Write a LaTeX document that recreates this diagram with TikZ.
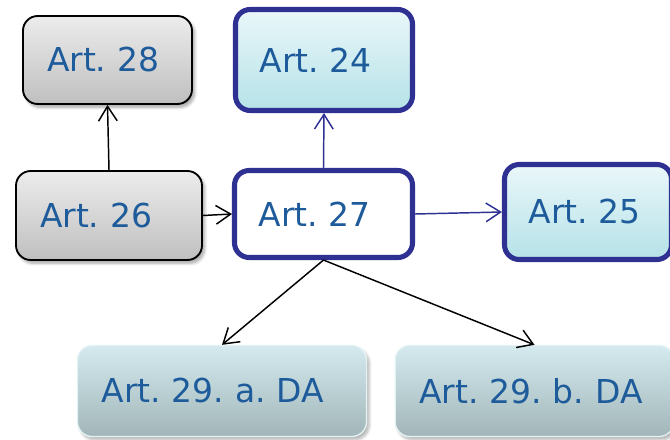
\documentclass[tikz,border=0pt]{standalone}
\usepackage{fontspec}
\setmainfont{DejaVu Sans}
\frenchspacing
\usetikzlibrary{arrows.meta,shadows.blur}
\definecolor{navy}{HTML}{2E3192}
\definecolor{arttext}{HTML}{1E5B9B}
\definecolor{cyantop}{HTML}{EAF7F9}
\definecolor{cyanbot}{HTML}{B5E2E8}
\definecolor{tealtop}{HTML}{D4EAEE}
\definecolor{tealbot}{HTML}{A2B6B9}
\begin{document}
\begin{tikzpicture}[x=0.75pt, y=-0.75pt,
  art/.style={rounded corners=11pt, inner xsep=18pt, inner ysep=0pt, align=left,
    text=arttext, font=\fontsize{24.7}{28}\selectfont},
  grey/.style={art, draw=black, line width=1.4pt, top color=gray!15, bottom color=gray!50,
    blur shadow={shadow xshift=2pt, shadow yshift=-2.5pt, shadow opacity=35, shadow blur steps=6}},
  cyan/.style={art, draw=navy, line width=3.8pt, top color=cyantop, bottom color=cyanbot},
  white/.style={art, draw=navy, line width=3.8pt, fill=white},
  teal/.style={art, draw=tealtop!60!white, line width=1pt, top color=tealtop, bottom color=tealbot,
    blur shadow={shadow xshift=2pt, shadow yshift=-2.5pt, shadow opacity=30, shadow blur steps=6}},
  link/.style={-{Straight Barb[length=11pt,width=14pt]}, line width=1.1pt}]
\useasboundingbox (0,0) rectangle (670,439);
\node [grey, text width=90.75pt, minimum height=66pt] (a28) at (107.5,60) {Art. 28};
\node [cyan, text width=96.75pt, minimum height=75.75pt] (a24) at (324,60) {Art. 24};
\node [grey, text width=103.5pt, minimum height=66.75pt] (a26) at (109,215.5) {Art. 26};
\node [white, text width=97.5pt, minimum height=65.25pt] (a27) at (323.5,214) {Art. 27};
\node [cyan, text width=89.25pt, minimum height=71.25pt] (a25) at (588,212) {Art. 25};
\node [teal, text width=180.75pt, minimum height=68.25pt] (a29a) at (222,391) {Art. 29. a. DA};
\node [teal, text width=173pt, minimum height=68.25pt] (a29b) at (534.5,391) {Art. 29. b. DA};
\draw [link] (a26.north) -- (a28.south);
\draw [link] (a26.east) -- (a27.west);
\draw [link, navy] (a27.north) -- (a24.south);
\draw [link, navy] (a27.east) -- (a25.west);
\draw [link] (a27.south) -- (a29a.north);
\draw [link] (a27.south) -- (a29b.north);
\end{tikzpicture}
\end{document}
